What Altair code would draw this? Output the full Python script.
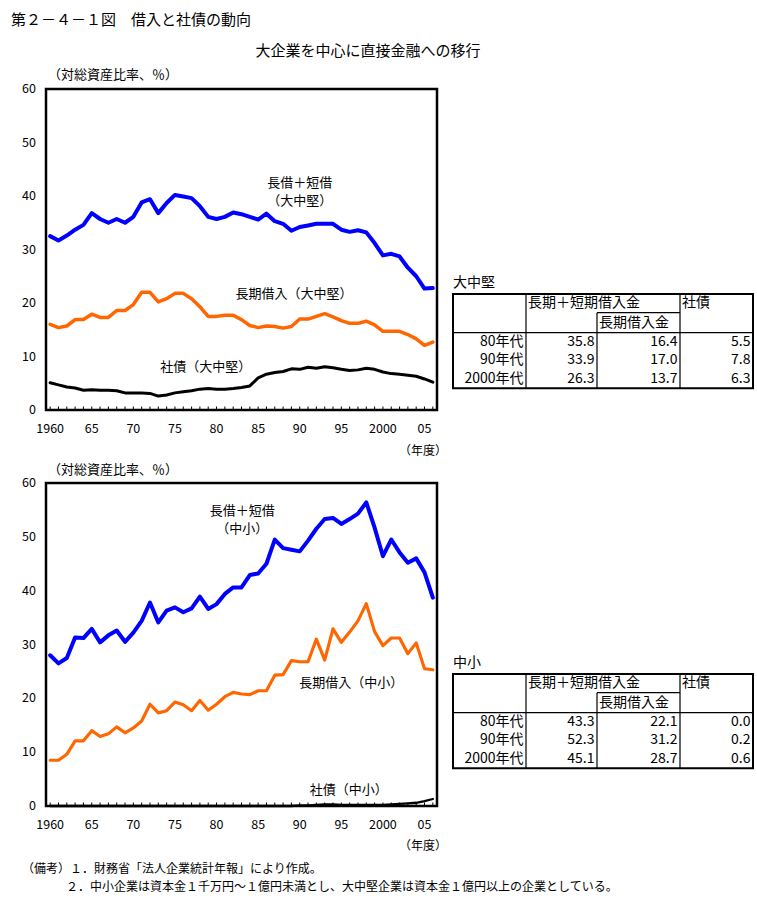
import altair as alt
import pandas as pd

FONT = "Noto Sans CJK JP"
W, H = 757, 917

# ---------------- data ----------------
years = list(range(1960, 2007))

big_total = [32.5, 31.7, 32.6, 33.7, 34.6, 36.8, 35.7, 35.0, 35.7, 35.0,
             36.1, 38.8, 39.4, 36.8, 38.7, 40.2, 39.9, 39.6, 38.1, 36.1,
             35.7, 36.1, 36.9, 36.6, 36.1, 35.6, 36.7, 35.3, 34.8, 33.5,
             34.2, 34.5, 34.8, 34.8, 34.8, 33.7, 33.3, 33.6, 33.2, 31.2,
             28.9, 29.2, 28.7, 26.6, 25.0, 22.7, 22.8]
big_long = [16.0, 15.4, 15.7, 16.9, 16.9, 17.9, 17.3, 17.3, 18.6, 18.6,
            19.7, 22.0, 22.0, 20.2, 20.8, 21.8, 21.8, 20.8, 19.3, 17.5,
            17.5, 17.7, 17.7, 16.9, 15.8, 15.4, 15.7, 15.6, 15.3, 15.6,
            17.0, 17.0, 17.5, 18.0, 17.4, 16.7, 16.2, 16.2, 16.6, 15.9,
            14.7, 14.7, 14.7, 14.1, 13.3, 12.1, 12.7]
big_bond = [5.1, 4.7, 4.3, 4.1, 3.7, 3.8, 3.7, 3.7, 3.6, 3.2,
            3.2, 3.2, 3.1, 2.6, 2.8, 3.2, 3.4, 3.6, 3.9, 4.0,
            3.9, 3.9, 4.0, 4.2, 4.5, 6.0, 6.7, 7.0, 7.2, 7.7,
            7.6, 8.0, 7.8, 8.1, 7.9, 7.6, 7.4, 7.5, 7.8, 7.6,
            7.1, 6.8, 6.7, 6.5, 6.3, 5.8, 5.2]

small_total = [28.0, 26.5, 27.5, 31.3, 31.2, 32.9, 30.4, 31.7, 32.6, 30.5,
               32.2, 34.4, 37.8, 34.1, 36.3, 36.9, 36.0, 36.7, 38.9, 36.6,
               37.5, 39.4, 40.6, 40.6, 42.9, 43.2, 45.0, 49.5, 47.9, 47.6,
               47.3, 49.3, 51.5, 53.3, 53.5, 52.4, 53.3, 54.3, 56.4, 51.7,
               46.4, 49.5, 47.1, 45.2, 46.0, 43.4, 38.7]
small_long = [8.5, 8.5, 9.6, 12.1, 12.1, 14.0, 12.9, 13.4, 14.7, 13.6,
              14.5, 15.8, 18.9, 17.3, 17.7, 19.3, 18.8, 17.7, 19.6, 17.8,
              18.9, 20.3, 21.1, 20.8, 20.7, 21.4, 21.4, 24.3, 24.4, 27.0,
              26.8, 26.8, 31.0, 27.1, 32.9, 30.4, 32.3, 34.4, 37.6, 32.4,
              29.8, 31.2, 31.2, 28.3, 30.3, 25.5, 25.3]
small_bond = [0.0] * 30 + [0.1, 0.1, 0.2, 0.3, 0.3, 0.2, 0.2, 0.2, 0.2, 0.2,
                           0.2, 0.3, 0.4, 0.5, 0.6, 0.9, 1.3]

series_names = ["長借＋短借", "長期借入", "社債"]
series_colors = ["#0000FF", "#FF6600", "#000000"]

x_tick_values = [1960, 1965, 1970, 1975, 1980, 1985, 1990, 1995, 2000, 2005]
x_tick_labels = ["1960", "65", "70", "75", "80", "85", "90", "95", "2000", "05"]
y_tick_values = [0, 10, 20, 30, 40, 50, 60]

table_row_labels = ["80年代", "90年代", "2000年代"]
big_tbl_total = ["35.8", "33.9", "26.3"]
big_tbl_long = ["16.4", "17.0", "13.7"]
big_tbl_bond = ["5.5", "7.8", "6.3"]
small_tbl_total = ["43.3", "52.3", "45.1"]
small_tbl_long = ["22.1", "31.2", "28.7"]
small_tbl_bond = ["0.0", "0.2", "0.6"]

# ---------------- layout constants ----------------
X_DOMAIN = [1959.5, 2006.5]
X_RANGE = [46, 437]


def panel(total, long_, bond, y_range, widths, annots):
    xs = alt.Scale(domain=X_DOMAIN, range=X_RANGE, nice=False, zero=False)
    ys = alt.Scale(domain=[0, 60], range=y_range, nice=False, zero=False)
    rows = []
    for name, vals in zip(series_names, [total, long_, bond]):
        for yr, v in zip(years, vals):
            rows.append({"year": yr, "value": v, "series": name})
    df = pd.DataFrame(rows)

    lines = alt.Chart(df).mark_line(strokeJoin="round", strokeCap="round").encode(
        x=alt.X("year:Q", scale=xs, axis=None),
        y=alt.Y("value:Q", scale=ys, axis=None),
        color=alt.Color("series:N", scale=alt.Scale(domain=series_names, range=series_colors), legend=None),
        strokeWidth=alt.StrokeWidth("series:N", scale=alt.Scale(domain=series_names, range=widths), legend=None),
    )

    frame_df = pd.DataFrame({"x0": [X_DOMAIN[0]], "x1": [X_DOMAIN[1]], "y0": [0], "y1": [60]})
    frame = alt.Chart(frame_df).mark_rect(fillOpacity=0, stroke="black", strokeWidth=2.5).encode(
        x=alt.X("x0:Q", scale=xs, axis=None), x2="x1:Q",
        y=alt.Y("y0:Q", scale=ys, axis=None), y2="y1:Q",
    )

    tick_df = pd.DataFrame({"year": years, "y0": 0.0, "y1": 0.65})
    ticks = alt.Chart(tick_df).mark_rule(color="black", strokeWidth=1).encode(
        x=alt.X("year:Q", scale=xs, axis=None),
        y=alt.Y("y0:Q", scale=ys, axis=None), y2="y1:Q",
    )

    xl_df = pd.DataFrame({"year": x_tick_values, "label": x_tick_labels, "y0": 0})
    xlabels = alt.Chart(xl_df).mark_text(font=FONT, fontSize=12.5, dy=19, baseline="middle").encode(
        x=alt.X("year:Q", scale=xs, axis=None),
        y=alt.Y("y0:Q", scale=ys, axis=None),
        text="label:N",
    )

    yl_df = pd.DataFrame({"v": y_tick_values, "label": [str(v) for v in y_tick_values], "x0": X_DOMAIN[0]})
    ylabels = alt.Chart(yl_df).mark_text(font=FONT, fontSize=12.5, align="right", dx=-10, baseline="middle").encode(
        x=alt.X("x0:Q", scale=xs, axis=None),
        y=alt.Y("v:Q", scale=ys, axis=None),
        text="label:N",
    )

    an_df = pd.DataFrame(annots, columns=["year", "value", "text"])
    ann = alt.Chart(an_df).mark_text(font=FONT, fontSize=13, baseline="middle").encode(
        x=alt.X("year:Q", scale=xs, axis=None),
        y=alt.Y("value:Q", scale=ys, axis=None),
        text="text:N",
    )
    return alt.layer(frame, ticks, lines, xlabels, ylabels, ann)


top = panel(big_total, big_long, big_bond, [410, 89], [4, 3, 0.8],
            [(1990.0, 42.5, "長借＋短借"), (1990.0, 39.1, "（大中堅）"),
             (1989.3, 21.7, "長期借入（大中堅）"), (1978.7, 8.0, "社債（大中堅）")])
bottom = panel(small_total, small_long, small_bond, [806, 483], [4, 2.3, 0.8],
               [(1983.1, 54.8, "長借＋短借"), (1983.1, 51.4, "（中小）"),
                (1996.2, 22.8, "長期借入（中小）"), (1995.9, 2.9, "社債（中小）")])

# ---------------- tables ----------------
TCOL = [0, 73, 144, 227, 300]
TROW = [0, 18.7, 38.7, 57.2, 75.7, 94.3]


def table(title, tot, lng, bnd, y_top):
    xs = alt.Scale(domain=[0, 300], range=[453, 753], nice=False, zero=False)
    ys = alt.Scale(domain=[0, TROW[-1]], range=[y_top, y_top + TROW[-1]], nice=False, zero=False)
    box_df = pd.DataFrame({"x0": [TCOL[0]], "x1": [TCOL[-1]], "y0": [TROW[0]], "y1": [TROW[-1]]})
    box = alt.Chart(box_df).mark_rect(fillOpacity=0, stroke="black", strokeWidth=2).encode(
        x=alt.X("x0:Q", scale=xs, axis=None), x2="x1:Q",
        y=alt.Y("y0:Q", scale=ys, axis=None), y2="y1:Q",
    )
    seg_df = pd.DataFrame([
        {"x0": TCOL[1], "y0": TROW[0], "x1": TCOL[1], "y1": TROW[-1]},
        {"x0": TCOL[2], "y0": TROW[1], "x1": TCOL[2], "y1": TROW[-1]},
        {"x0": TCOL[3], "y0": TROW[0], "x1": TCOL[3], "y1": TROW[-1]},
        {"x0": TCOL[2], "y0": TROW[1], "x1": TCOL[3], "y1": TROW[1]},
        {"x0": TCOL[0], "y0": TROW[2], "x1": TCOL[4], "y1": TROW[2]},
    ])
    segs = alt.Chart(seg_df).mark_rule(color="black", strokeWidth=1.2).encode(
        x=alt.X("x0:Q", scale=xs, axis=None), x2="x1:Q",
        y=alt.Y("y0:Q", scale=ys, axis=None), y2="y1:Q",
    )
    head_df = pd.DataFrame([
        {"x": TCOL[1] + 2, "y": (TROW[0] + TROW[1]) / 2, "t": "長期＋短期借入金"},
        {"x": TCOL[2] + 2, "y": (TROW[1] + TROW[2]) / 2, "t": "長期借入金"},
        {"x": TCOL[3] + 2, "y": (TROW[0] + TROW[1]) / 2, "t": "社債"},
        {"x": TCOL[0], "y": -11, "t": title},
    ])
    heads = alt.Chart(head_df).mark_text(font=FONT, fontSize=14, align="left", baseline="middle").encode(
        x=alt.X("x:Q", scale=xs, axis=None), y=alt.Y("y:Q", scale=ys, axis=None), text="t:N",
    )
    cells = []
    for i in range(3):
        yc = (TROW[2 + i] + TROW[3 + i]) / 2
        for col, vals in zip(range(4), [table_row_labels, tot, lng, bnd]):
            cells.append({"x": TCOL[col + 1] - 2.5, "y": yc, "t": vals[i]})
    cell_df = pd.DataFrame(cells)
    body = alt.Chart(cell_df).mark_text(font=FONT, fontSize=14, align="right", baseline="middle").encode(
        x=alt.X("x:Q", scale=xs, axis=None), y=alt.Y("y:Q", scale=ys, axis=None), text="t:N",
    )
    return alt.layer(box, segs, heads, body)


tbl1 = table("大中堅", big_tbl_total, big_tbl_long, big_tbl_bond, 294)
tbl2 = table("中小", small_tbl_total, small_tbl_long, small_tbl_bond, 674)


# ---------------- free texts ----------------
def txt(s, x, y, size, align="left"):
    return alt.Chart(pd.DataFrame({"t": [s]})).mark_text(
        font=FONT, fontSize=size, align=align, baseline="middle"
    ).encode(x=alt.value(x), y=alt.value(y), text="t:N")


texts = [
    txt("第２－４－１図　借入と社債の動向", 11, 20, 15),
    txt("大企業を中心に直接金融への移行", 368, 51, 15, "center"),
    txt("（対総資産比率、％）", 48, 75, 13),
    txt("（対総資産比率、％）", 48, 470, 13),
    txt("（年度）", 447, 451, 12, "right"),
    txt("（年度）", 447, 846, 12, "right"),
    txt("（備考）１．財務省「法人企業統計年報」により作成。", 22, 869, 12),
    txt("２．中小企業は資本金１千万円～１億円未満とし、大中堅企業は資本金１億円以上の企業としている。", 66, 887, 12),
]

chart = alt.layer(top, bottom, tbl1, tbl2, *texts).resolve_scale(
    x="independent", y="independent", color="independent", strokeWidth="independent"
).properties(
    width=W, height=H, padding=0, background="white",
    autosize=alt.AutoSizeParams(type="none"),
).configure_view(strokeWidth=0).configure_text(font=FONT)

chart.save("out.html", embed_options={"renderer": "svg", "actions": False})
